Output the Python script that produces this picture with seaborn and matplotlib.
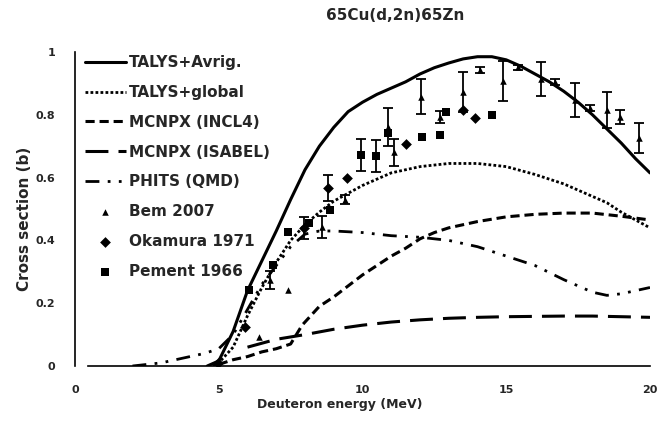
import numpy as np
import seaborn as sns
import matplotlib
matplotlib.use("Agg")
import matplotlib.pyplot as plt

# model curves (MeV, barn)
avrig_x = [4.6, 5.0, 5.5, 6.0, 6.5, 7.0, 7.5, 8.0, 8.5, 9.0, 9.5, 10.0, 10.5, 11.0, 11.5,
           12.0, 12.5, 13.0, 13.5, 14.0, 14.5, 15.0, 15.5, 16.0, 16.5, 17.0, 17.5, 18.0,
           18.5, 19.0, 19.5, 20.0]
avrig_y = [0.0, 0.016, 0.11, 0.24, 0.335, 0.43, 0.53, 0.625, 0.70, 0.76, 0.81, 0.84, 0.865,
           0.885, 0.905, 0.93, 0.95, 0.965, 0.978, 0.985, 0.985, 0.975, 0.955, 0.93, 0.905,
           0.875, 0.84, 0.80, 0.755, 0.71, 0.66, 0.615]

global_x = [4.8, 5.0, 5.5, 6.0, 6.5, 7.0, 7.5, 8.0, 8.5, 9.0, 9.5, 10.0, 11.0, 12.0, 13.0,
            14.0, 15.0, 16.0, 17.0, 18.0, 18.5, 19.0, 20.0]
global_y = [0.0, 0.01, 0.06, 0.16, 0.25, 0.33, 0.40, 0.45, 0.49, 0.525, 0.55, 0.575, 0.615,
            0.635, 0.645, 0.645, 0.635, 0.61, 0.58, 0.54, 0.52, 0.49, 0.44]

incl4_x = [5.0, 5.5, 6.0, 6.5, 7.0, 7.5, 7.9, 8.5, 9.0, 9.5, 10.0, 10.5, 11.0, 11.5, 12.0,
           12.5, 13.0, 14.0, 15.0, 16.0, 17.0, 18.0, 19.0, 20.0]
incl4_y = [0.005, 0.02, 0.03, 0.045, 0.055, 0.07, 0.13, 0.19, 0.22, 0.255, 0.29, 0.32, 0.35,
           0.375, 0.405, 0.425, 0.44, 0.46, 0.475, 0.483, 0.487, 0.487, 0.477, 0.465]

isabel_x = [6.0, 7.0, 8.0, 9.0, 10.0, 11.0, 12.0, 13.0, 14.0, 15.0, 16.0, 17.0, 18.0, 19.0, 20.0]
isabel_y = [0.06, 0.085, 0.10, 0.117, 0.13, 0.14, 0.147, 0.152, 0.155, 0.157, 0.158, 0.159,
            0.159, 0.157, 0.155]

phits_x = [2.0, 3.0, 4.0, 4.5, 5.0, 5.5, 6.0, 6.5, 7.0, 7.5, 8.0, 8.5, 9.0, 10.0, 11.0, 12.0,
           13.0, 14.0, 15.0, 16.0, 17.0, 18.0, 18.5, 19.0, 20.0]
phits_y = [0.0, 0.01, 0.03, 0.04, 0.055, 0.10, 0.18, 0.26, 0.32, 0.38, 0.42, 0.43, 0.43,
           0.425, 0.415, 0.41, 0.40, 0.38, 0.35, 0.32, 0.275, 0.235, 0.225, 0.23, 0.25]

# experimental data
bem_x = [6.4, 6.78, 7.4, 8.58, 9.4, 10.9, 11.1, 12.05, 12.7, 13.5, 14.1, 14.9, 15.4, 16.2,
         16.7, 17.4, 17.9, 18.5, 18.96, 19.6]
bem_y = [0.092, 0.274, 0.242, 0.443, 0.53, 0.761, 0.68, 0.857, 0.793, 0.873, 0.943, 0.908,
         0.952, 0.914, 0.904, 0.847, 0.822, 0.815, 0.793, 0.726]
bem_err = [0.0, 0.03, 0.0, 0.036, 0.015, 0.06, 0.042, 0.056, 0.02, 0.064, 0.01, 0.064, 0.008,
           0.054, 0.01, 0.053, 0.01, 0.057, 0.022, 0.048]

oka_x = [4.98, 5.9, 7.95, 8.8, 9.45, 11.5, 13.5, 13.9]
oka_y = [0.01, 0.124, 0.44, 0.567, 0.60, 0.707, 0.815, 0.79]
oka_err = [0.0, 0.0, 0.035, 0.04, 0.0, 0.0, 0.0, 0.0]

pem_x = [6.05, 6.9, 7.4, 8.15, 8.87, 9.94, 10.46, 10.9, 12.07, 12.7, 12.9, 14.5]
pem_y = [0.242, 0.322, 0.427, 0.455, 0.497, 0.672, 0.669, 0.742, 0.729, 0.736, 0.809, 0.80]
pem_err = [0.0, 0.0, 0.0, 0.0, 0.0, 0.05, 0.05, 0.0, 0.0, 0.0, 0.0, 0.0]

sns.set_style("white")
plt.rcParams["font.family"] = ["DejaVu Sans"]
plt.rcParams["font.weight"] = "bold"

fig = plt.figure(figsize=(6.68, 4.22), dpi=100)
ax = fig.add_axes([75 / 668, 56 / 422, 575 / 668, 314 / 422])

lw = 2.2
curves = [
    (avrig_x, avrig_y, "TALYS+Avrig.", "-", lw),
    (global_x, global_y, "TALYS+global", (0, (1, 0.8)), 2.0),
    (incl4_x, incl4_y, "MCNPX (INCL4)", (0, (3, 1.6)), lw),
    (isabel_x, isabel_y, "MCNPX (ISABEL)", (0, (7.5, 3.3)), lw),
    (phits_x, phits_y, "PHITS (QMD)", (0, (5, 3, 1, 3, 1, 3)), 2.0),
]
handles = []
for xs, ys, name, ls, w in curves:
    sns.lineplot(x=xs, y=ys, ax=ax, color="black", lw=w, linestyle=ls,
                 sort=False, estimator=None, label=name)
    handles.append(ax.lines[-1])

points = [
    (bem_x, bem_y, bem_err, "Bem 2007", "^", 22),
    (oka_x, oka_y, oka_err, "Okamura 1971", "D", 30),
    (pem_x, pem_y, pem_err, "Pement 1966", "s", 38),
]
for xs, ys, err, name, mk, s in points:
    err = np.array(err)
    has = err > 0
    ax.errorbar(np.array(xs)[has], np.array(ys)[has], yerr=err[has], fmt="none",
                ecolor="black", elinewidth=1.3, capsize=3.5, capthick=1.3)
    sns.scatterplot(x=xs, y=ys, ax=ax, color="black", marker=mk, s=s,
                    edgecolor="black", linewidth=0, label=name, zorder=3)
    handles.append(ax.collections[-1])

ax.set_xlim(0, 20)
ax.set_ylim(0, 1)
ax.set_xticks([0, 5, 10, 15, 20])
ax.set_yticks([0, 0.2, 0.4, 0.6, 0.8, 1])
ax.set_yticklabels(["0", "0.2", "0.4", "0.6", "0.8", "1"])
for side in ["top", "right"]:
    ax.spines[side].set_visible(False)
for side in ["left", "bottom"]:
    ax.spines[side].set_linewidth(1.2)
    ax.spines[side].set_color("black")
ax.spines["bottom"].set_bounds(0.45, 20)
ax.tick_params(axis="x", direction="out", length=3, width=1, pad=11, labelsize=8)
ax.tick_params(axis="y", direction="out", length=4, width=1, pad=10, labelsize=8)

ax.set_xlabel("Deuteron energy (MeV)", fontsize=9, fontweight="bold")
ax.xaxis.set_label_coords(0.46, -0.124)
ax.xaxis.label.set_va("center")
ax.set_ylabel("Cross section (b)", fontsize=11, fontweight="bold")
ax.yaxis.set_label_coords(-0.087, 0.468)
ax.yaxis.label.set_va("center")

fig.text(395 / 668, 1 - 15 / 422, "65Cu(d,2n)65Zn", ha="center", va="center",
         fontsize=11, fontweight="bold")

labels = [c[2] for c in curves] + [p[3] for p in points]
ax.legend(handles, labels, loc="upper left", bbox_to_anchor=(0.017, 0.99),
          frameon=False, borderpad=0, borderaxespad=0,
          handlelength=2.7, handletextpad=0.2, labelspacing=0.97,
          prop={"weight": "bold", "size": 11})

fig.savefig("out.png", dpi=100)
